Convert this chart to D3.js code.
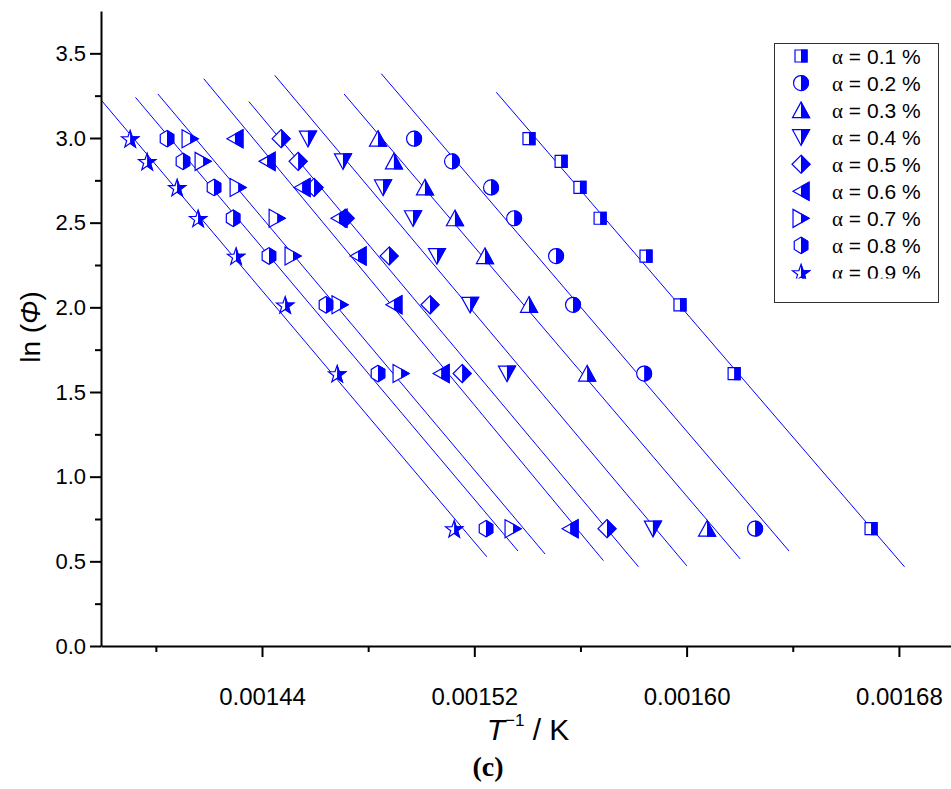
<!DOCTYPE html>
<html>
<head>
<meta charset="utf-8">
<script src="https://cdn.jsdelivr.net/npm/d3@7"></script>
<style>
  html, body { margin: 0; padding: 0; background: #fff; }
  svg { display: block; }
</style>
</head>
<body>
<svg id="chart" width="951" height="789"></svg>
<script>
// ---- data ----
const lnPhi = [2.996, 2.862, 2.708, 2.526, 2.303, 2.015, 1.609, 0.693];
const seriesNames = ["α = 0.1 %", "α = 0.2 %", "α = 0.3 %", "α = 0.4 %", "α = 0.5 %",
                     "α = 0.6 %", "α = 0.7 %", "α = 0.8 %", "α = 0.9 %"];
const seriesShapes = ["square", "circle", "triUp", "triDown", "diamond", "triLeft", "triRight", "hexagon", "star"];
const invT_a01 = [0.0015406, 0.0015527, 0.0015598, 0.0015674, 0.0015847, 0.0015975, 0.0016179, 0.0016695];
const invT_a02 = [0.0014973, 0.0015116, 0.0015263, 0.0015350, 0.0015508, 0.0015572, 0.0015840, 0.0016258];
const invT_a03 = [0.0014837, 0.0014897, 0.0015014, 0.0015127, 0.0015240, 0.0015406, 0.0015625, 0.0016077];
const invT_a04 = [0.0014573, 0.0014705, 0.0014856, 0.0014969, 0.0015059, 0.0015184, 0.0015323, 0.0015873];
const invT_a05 = [0.0014472, 0.0014536, 0.0014596, 0.0014713, 0.0014879, 0.0015033, 0.0015154, 0.0015700];
const invT_a06 = [0.0014298, 0.0014419, 0.0014551, 0.0014690, 0.0014762, 0.0014897, 0.0015075, 0.0015561];
const invT_a07 = [0.0014129, 0.0014178, 0.0014310, 0.0014457, 0.0014517, 0.0014694, 0.0014924, 0.0015346];
const invT_a08 = [0.0014042, 0.0014102, 0.0014219, 0.0014291, 0.0014426, 0.0014641, 0.0014837, 0.0015244];
const invT_a09 = [0.0013903, 0.0013967, 0.0014080, 0.0014159, 0.0014302, 0.0014487, 0.0014683, 0.0015124];
// extent (in ln(Phi)) of each fitted line
const fitTop    = [3.27, 3.38, 3.26, 3.37, 3.215, 3.35, 3.26, 3.24, 3.30];
const fitBottom = [0.468, 0.561, 0.514, 0.473, 0.468, 0.504, 0.543, 0.561, 0.527];
const xMajorTicks = [0.00144, 0.00152, 0.00160, 0.00168];
const xMinorTicks = [0.00140, 0.00148, 0.00156, 0.00164];
const yMajorTicks = [0, 0.5, 1.0, 1.5, 2.0, 2.5, 3.0, 3.5];
const yMinorTicks = [0.25, 0.75, 1.25, 1.75, 2.25, 2.75, 3.25];

const allX = [invT_a01, invT_a02, invT_a03, invT_a04, invT_a05, invT_a06, invT_a07, invT_a08, invT_a09];

// ---- scales ----
const svg = d3.select("#chart");
const BLUE = "#0000ff";
const x = d3.scaleLinear().domain([0.00137933, 0.00169963]).range([101, 951]);
const y = d3.scaleLinear().domain([0, 3.75]).range([646, 11]);

// ---- shapes ----
function shapePath(kind) {
  switch (kind) {
    case "square": return "M-6,-6H6V6H-6Z";
    case "circle": return "M-7.5,0A7.5,7.5 0 1,1 7.5,0A7.5,7.5 0 1,1 -7.5,0Z";
    case "triUp": return "M0,-8L8.5,7.5L-8.5,7.5Z";
    case "triDown": return "M-8.5,-7.5L8.5,-7.5L0,8Z";
    case "diamond": return "M0,-9L9,0L0,9L-9,0Z";
    case "triLeft": return "M-8,0L8,-9L8,9Z";
    case "triRight": return "M8,0L-8,-9L-8,9Z";
    case "hexagon": {
      const p = [];
      for (let i = 0; i < 6; i++) { const a = Math.PI / 180 * (90 + 60 * i); p.push([7.8 * Math.cos(a), -8.2 * Math.sin(a)]); }
      return "M" + p.map(d => d[0].toFixed(2) + "," + d[1].toFixed(2)).join("L") + "Z";
    }
    case "star": {
      const p = [];
      for (let i = 0; i < 10; i++) { const r = i % 2 ? 3.6 : 9; const a = -Math.PI / 2 + i * Math.PI / 5; p.push([r * Math.cos(a), r * Math.sin(a) + 1]); }
      return "M" + p.map(d => d[0].toFixed(2) + "," + d[1].toFixed(2)).join("L") + "Z";
    }
  }
}

const defs = svg.append("defs");
defs.append("clipPath").attr("id", "rightHalf")
  .append("rect").attr("x", 0).attr("y", -20).attr("width", 20).attr("height", 40);
defs.append("clipPath").attr("id", "plotArea")
  .append("rect").attr("x", 101).attr("y", 0).attr("width", 850).attr("height", 646);
defs.append("clipPath").attr("id", "legendClip")
  .append("rect").attr("x", 770).attr("y", 40).attr("width", 180).attr("height", 238.5);

function drawMarker(g, kind) {
  const d = shapePath(kind);
  g.append("path").attr("d", d).attr("fill", "#fff").attr("stroke", BLUE).attr("stroke-width", 1.2);
  g.append("path").attr("d", d).attr("fill", BLUE).attr("stroke", BLUE).attr("stroke-width", 1.2)
    .attr("clip-path", "url(#rightHalf)");
}

// ---- fitted lines (least squares of ln(Phi) on 1/T) ----
const linesG = svg.append("g").attr("clip-path", "url(#plotArea)");
allX.forEach((xs, si) => {
  const mx = d3.mean(xs), my = d3.mean(lnPhi);
  let sxy = 0, sxx = 0;
  xs.forEach((v, i) => { sxy += (v - mx) * (lnPhi[i] - my); sxx += (v - mx) * (v - mx); });
  const b = sxy / sxx, a = my - b * mx;
  const xAt = yy => (yy - a) / b;
  linesG.append("line")
    .attr("x1", x(xAt(fitTop[si]))).attr("y1", y(fitTop[si]))
    .attr("x2", x(xAt(fitBottom[si]))).attr("y2", y(fitBottom[si]))
    .attr("stroke", BLUE).attr("stroke-width", 1);
});

// ---- points ----
allX.forEach((xs, si) => {
  xs.forEach((v, i) => {
    const g = svg.append("g").attr("transform", `translate(${x(v)},${y(lnPhi[i])})`);
    drawMarker(g, seriesShapes[si]);
  });
});

// ---- axes ----
const axisStyle = sel => {
  sel.selectAll("path.domain").attr("stroke", "#000").attr("stroke-width", 2);
  sel.selectAll(".tick line").attr("stroke", "#000").attr("stroke-width", 2);
};
const xAxisG = svg.append("g").attr("transform", "translate(0,646)")
  .call(d3.axisBottom(x).tickValues(xMajorTicks).tickSize(11).tickSizeOuter(0).tickPadding(30)
    .tickFormat(d3.format(".5f")));
axisStyle(xAxisG);
xAxisG.selectAll("text").attr("font-family", "'Liberation Sans Narrow', 'Arial Narrow', sans-serif")
  .attr("font-size", 24).attr("fill", "#000").attr("dy", "0.32em").attr("y", 51);
const xMinorG = svg.append("g").attr("transform", "translate(0,646)")
  .call(d3.axisBottom(x).tickValues(xMinorTicks).tickSize(6).tickSizeOuter(0).tickFormat(""));
axisStyle(xMinorG);
xMinorG.select("path.domain").remove();

const yAxisG = svg.append("g").attr("transform", "translate(101,0)")
  .call(d3.axisLeft(y).tickValues(yMajorTicks).tickSize(11).tickSizeOuter(0).tickPadding(4)
    .tickFormat(d3.format(".1f")));
axisStyle(yAxisG);
yAxisG.selectAll("text").attr("font-family", "'Liberation Sans', Arial, sans-serif")
  .attr("font-size", 22).attr("fill", "#000");
const yMinorG = svg.append("g").attr("transform", "translate(101,0)")
  .call(d3.axisLeft(y).tickValues(yMinorTicks).tickSize(6).tickSizeOuter(0).tickFormat(""));
axisStyle(yMinorG);
yMinorG.select("path.domain").remove();

// ---- axis titles ----
const xt = svg.append("text").attr("x", 528).attr("y", 740).attr("text-anchor", "middle")
  .attr("font-family", "'Liberation Sans', Arial, sans-serif").attr("font-size", 30).attr("fill", "#000");
xt.append("tspan").attr("font-style", "italic").text("T");
xt.append("tspan").attr("font-size", 17).attr("dy", -14).text("−1");
xt.append("tspan").attr("dy", 14).text(" / K");

const yt = svg.append("text").attr("transform", "translate(40,327) rotate(-90)").attr("text-anchor", "middle")
  .attr("font-family", "'Liberation Sans', Arial, sans-serif").attr("font-size", 28).attr("fill", "#000");
yt.append("tspan").text("ln (");
yt.append("tspan").attr("font-style", "italic").text("Φ");
yt.append("tspan").text(")");

svg.append("text").attr("x", 488).attr("y", 776).attr("text-anchor", "middle")
  .attr("font-family", "'Liberation Serif', 'DejaVu Serif', serif").attr("font-weight", "bold")
  .attr("font-size", 28).attr("fill", "#000").text("(c)");

// ---- legend ----
svg.append("rect").attr("x", 774.5).attr("y", 43.5).attr("width", 164).attr("height", 259)
  .attr("fill", "#fff").attr("stroke", "#333").attr("stroke-width", 1);
const legG = svg.append("g").attr("clip-path", "url(#legendClip)");
seriesNames.forEach((name, i) => {
  const ly = 56 + i * 27.06;
  const g = legG.append("g").attr("transform", `translate(801,${ly})`);
  drawMarker(g, seriesShapes[i]);
  const t = legG.append("text").attr("x", 832).attr("y", ly + 7.5)
    .attr("font-family", "'Liberation Sans', Arial, sans-serif").attr("font-size", 21).attr("fill", "#000");
  t.append("tspan").attr("font-family", "'Liberation Serif', serif").text(name.slice(0, 1));
  t.append("tspan").text(name.slice(1));
});
</script>
</body>
</html>
